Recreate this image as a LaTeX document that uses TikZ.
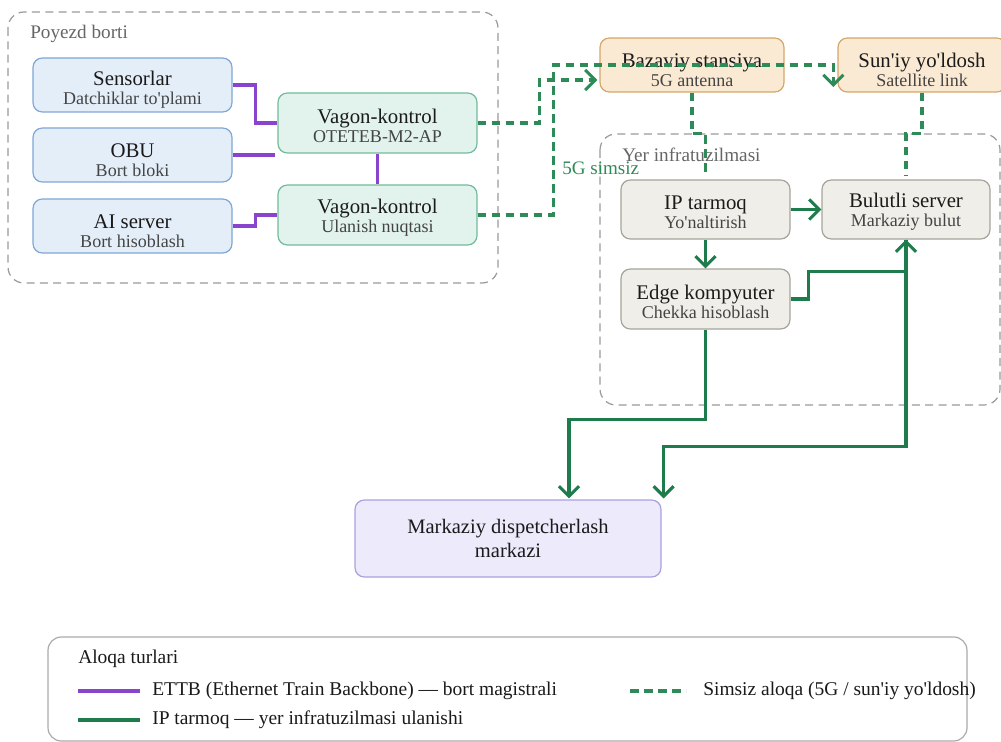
\documentclass[tikz,border=0pt]{standalone}
\usepackage{fontspec}
\setmainfont{Liberation Serif}[Ligatures=TeXOff]
\usetikzlibrary{arrows.meta,calc}
\definecolor{bluef}{HTML}{E4EEF9}
\definecolor{blued}{HTML}{7FA6D6}
\definecolor{mintf}{HTML}{E1F3EC}
\definecolor{mintd}{HTML}{72BB9A}
\definecolor{peachf}{HTML}{FBEAD3}
\definecolor{peachd}{HTML}{D4A66A}
\definecolor{grayf}{HTML}{F0EEE8}
\definecolor{grayd}{HTML}{A6A39B}
\definecolor{lavf}{HTML}{ECEAFB}
\definecolor{lavd}{HTML}{A99FE0}
\definecolor{grpc}{HTML}{9A9A9A}
\definecolor{glc}{HTML}{666666}
\definecolor{titc}{HTML}{1A1A1A}
\definecolor{subc}{HTML}{444444}
\definecolor{ethc}{HTML}{8A43CC}
\definecolor{wlc}{HTML}{2E8B57}
\definecolor{ipc}{HTML}{1E7B4B}
\definecolor{legd}{HTML}{AAAAAA}
\newcommand{\subf}{\fontsize{13.5}{14.3}\selectfont}
\newcommand{\ttl}[2][18.5pt]{{\fontsize{15.6}{14.3}\selectfont\color{titc}\rule{0pt}{#1}#2}}
\newcommand{\grpf}{\fontsize{14.4}{17}\selectfont}
\newcommand{\legf}{\fontsize{14.6}{17}\selectfont}
\tikzset{
  grp/.style={draw=grpc, dash pattern=on 6pt off 4pt, line width=0.9pt, rounded corners=12pt},
  box/.style={draw, line width=0.9pt, rounded corners=7pt, align=center, inner sep=0pt, font=\subf, text=subc},
  blueb/.style={box, fill=bluef, draw=blued},
  mintb/.style={box, fill=mintf, draw=mintd},
  peachb/.style={box, fill=peachf, draw=peachd},
  grayb/.style={box, fill=grayf, draw=grayd},
  lavb/.style={box, fill=lavf, draw=lavd},
  eth/.style={draw=ethc, line width=2.3pt},
  wl/.style={draw=wlc, line width=2.3pt, dash pattern=on 6.5pt off 4pt},
  ipl/.style={draw=ipc, line width=2.3pt},
  tip/.style={-{Straight Barb[length=7.5pt,width=15pt]}},
  glabel/.style={anchor=west, inner sep=0pt, text=glc, font=\grpf},
  leg/.style={anchor=west, inner sep=0pt, text=titc, font=\legf},
}
\begin{document}
\begin{tikzpicture}[x=0.75pt,y=-0.75pt]
\useasboundingbox (0,0) rectangle (1001,742);
% groups
\draw[grp] (8,12) rectangle (498,283);
\node[glabel] (poyezd) at (30,33.5) {Poyezd borti};
\draw[grp] (600,134) rectangle (1000,405);
\node[glabel] (yer) at (622,155) {Yer infratuzilmasi};
% on-board nodes
\node[blueb, minimum width=149.25pt, minimum height=40.5pt] (sen) at (132.5,85) {\ttl{Sensorlar}\\Datchiklar to'plami};
\node[blueb, minimum width=149.25pt, minimum height=40.5pt] (obu) at (132.5,155) {\ttl{OBU}\\Bort bloki};
\node[blueb, minimum width=149.25pt, minimum height=40.5pt] (ai) at (132.5,226) {\ttl{AI server}\\Bort hisoblash};
\node[mintb, minimum width=149.25pt, minimum height=45pt] (vk1) at (377.5,123) {\ttl[14.7pt]{Vagon-kontrol}\\OTETEB-M2-AP};
\node[mintb, minimum width=149.25pt, minimum height=45pt] (vk2) at (377.5,215) {\ttl[14.7pt]{Vagon-kontrol}\\Ulanish nuqtasi};
% radio nodes
\node[peachb, minimum width=138pt, minimum height=40.5pt] (baz) at (692,65) {\ttl{Bazaviy stansiya}\\5G antenna};
\node[peachb, minimum width=126pt, minimum height=40.5pt] (sat) at (922,65) {\ttl{Sun'iy yo'ldosh}\\Satellite link};
% ground nodes
\node[grayb, minimum width=126.75pt, minimum height=44.25pt] (ip) at (705.5,209.5) {\ttl[14.7pt]{IP tarmoq}\\Yo'naltirish};
\node[grayb, minimum width=126pt, minimum height=44.25pt] (bul) at (906,209.5) {\ttl[14.7pt]{Bulutli server}\\Markaziy bulut};
\node[grayb, minimum width=126.75pt, minimum height=45pt] (edge) at (705.5,299) {\ttl[14.7pt]{Edge kompyuter}\\Chekka hisoblash};
\node[lavb, minimum width=229.5pt, minimum height=57.75pt, font=\fontsize{15.4}{18}\selectfont, text=titc] (mdm) at (508,538.5) {Markaziy dispetcherlash\\markazi};
% ETTB links
\coordinate (obuend) at (275,155);
\draw[eth] (sen.east) -- ++(23,0) |- (vk1.west);
\draw[eth] (obu.east) -- (obuend);
\draw[eth] (ai.east) -- ++(23,0) |- (vk2.west);
\draw[eth] (vk1.south) -- (vk2.north);
% wireless links
\draw[wl, tip] (vk1.east) -- ++(62,0) |- ($(baz.west)+(-2,15)$);
\draw[wl, tip] (vk2.east) -- ++(76,0) |- ($(sat.west)+(-4,0)$) -- ($(sat.west)+(-4,22)$);
\draw[wl] (baz.south) -- ++(0,41) -| ($(ip.north)+(0,-3)$);
\draw[wl] (sat.south) -- ++(0,41) -| ($(bul.north)+(0,-3)$);
\node[anchor=west, inner sep=0pt, text=wlc, font=\fontsize{14.3}{17}\selectfont] (wlabel) at (562,168) {5G simsiz};
% IP links
\draw[ipl, tip] (ip.east) -- (bul.west);
\draw[ipl, tip] (ip.south) -- (edge.north);
\draw[ipl, tip] (edge.east) -- ++(18,0) |- ($(bul.south)+(0,32)$) -- (bul.south);
\draw[ipl, tip] (edge.south) -- ++(0,90) -| ($(mdm.north)+(61,-1)$);
\draw[ipl, tip] (bul.south) -- ++(0,207) -| ($(mdm.north east)+(2,-1)$);
% legend
\draw[draw=legd, fill=white, line width=0.9pt, rounded corners=10pt] (48,637) rectangle (967,741);
\node[leg] (legt) at (78,659) {Aloqa turlari};
\coordinate (l1a) at (78,691); \coordinate (l1b) at (140,691);
\draw[eth] (l1a) -- (l1b);
\node[leg] (l1t) at (152,691) {ETTB (Ethernet Train Backbone) — bort magistrali};
\coordinate (l2a) at (630,691); \coordinate (l2b) at (686,691);
\draw[wl] (l2a) -- (l2b);
\node[leg] (l2t) at (703,691) {Simsiz aloqa (5G / sun'iy yo'ldosh)};
\coordinate (l3a) at (78,720); \coordinate (l3b) at (140,720);
\draw[ipl] (l3a) -- (l3b);
\node[leg] (l3t) at (152,720) {IP tarmoq — yer infratuzilmasi ulanishi};
\end{tikzpicture}
\end{document}
